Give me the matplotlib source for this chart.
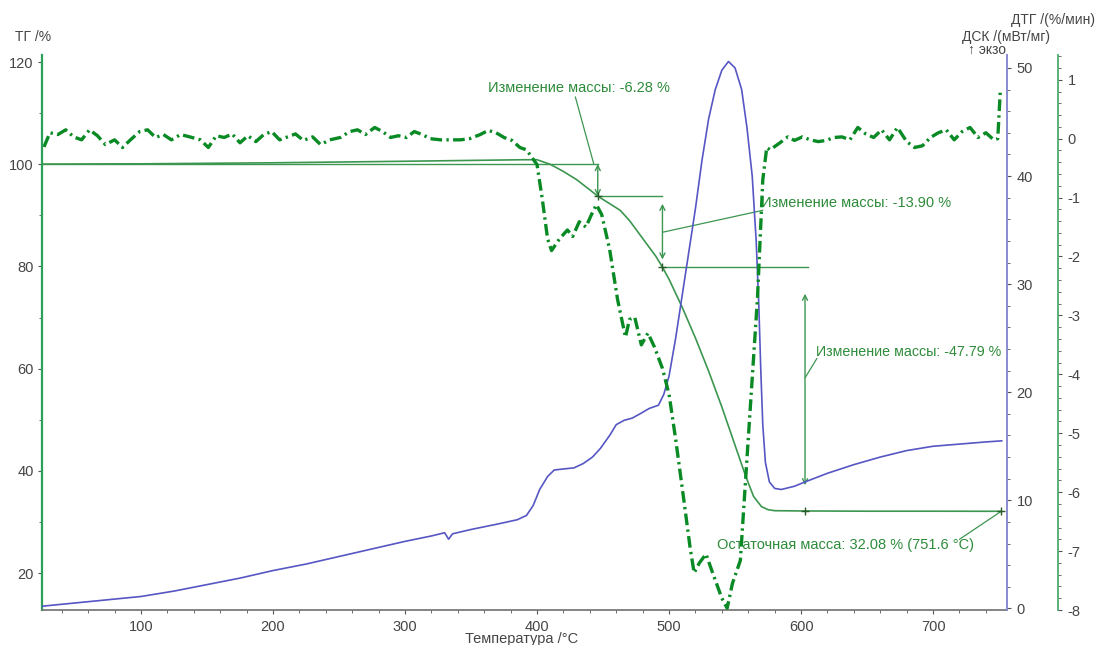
import numpy as np
import matplotlib
matplotlib.use("Agg")
import matplotlib.pyplot as plt
from matplotlib.ticker import MultipleLocator

plt.rcParams['font.family'] = ['Liberation Sans', 'DejaVu Sans']

# TG curve, %
tg_temp = [25, 100, 200, 300, 390, 400, 410, 420, 430, 440, 446, 455, 463, 470,
           480, 490, 495, 500, 510, 520, 530, 540, 550, 558, 564, 570, 575, 580,
           600, 650, 700, 751.6]
tg_mass = [100.05, 100.1, 100.3, 100.6, 100.9, 100.9, 100.0, 98.6, 97.0, 95.0,
           93.77, 92.3, 91.0, 89.0, 85.5, 82.0, 79.87, 77.5, 72.0, 66.0, 59.5,
           52.5, 45.0, 39.0, 35.0, 33.0, 32.4, 32.2, 32.15, 32.1, 32.1, 32.08]

# DSC curve, mW/mg
dsc_temp = [25, 50, 75, 100, 125, 150, 175, 200, 225, 250, 275, 300, 320, 330,
            333, 336, 350, 370, 385, 392, 397, 402, 408, 413, 420, 428, 435, 442,
            448, 455, 460, 466, 472, 478, 485, 492, 496, 500, 505, 510, 515, 520,
            525, 530, 535, 540, 545, 550, 555, 559, 563, 566, 568, 569.5, 571,
            573, 576, 580, 585, 595, 603, 620, 640, 660, 680, 700, 720, 740, 752]
dsc_val = [0.2, 0.5, 0.8, 1.1, 1.6, 2.2, 2.8, 3.5, 4.1, 4.8, 5.5, 6.2, 6.7, 7.0,
           6.4, 6.9, 7.3, 7.8, 8.2, 8.6, 9.5, 11.0, 12.2, 12.8, 12.9, 13.0, 13.4,
           14.0, 14.8, 16.0, 17.0, 17.4, 17.6, 18.0, 18.5, 18.8, 19.8, 21.5, 25.0,
           29.0, 33.0, 37.0, 41.5, 45.3, 48.0, 49.8, 50.6, 50.0, 48.0, 44.5, 40.0,
           34.0, 28.0, 22.0, 17.0, 13.5, 11.7, 11.1, 11.0, 11.3, 11.7, 12.5, 13.3,
           14.0, 14.6, 15.0, 15.2, 15.4, 15.5]

# DTG curve, %/min
dtg_temp = [26.5, 31, 37, 43, 49, 55, 61, 67, 73, 80, 86, 92, 99, 105, 111, 117,
            123, 130, 137, 145, 151, 157, 163, 169, 175, 181, 187, 193, 199, 205,
            211, 217, 223, 230, 236, 243, 251, 258, 264, 270, 277, 283, 289, 295,
            301, 307, 313, 319, 327, 334, 342, 349, 357, 363, 369, 375, 381, 387,
            392, 400, 404, 408, 411, 417, 423, 427, 432, 437, 441, 445, 449, 455,
            461, 467, 470, 474, 479, 484, 489, 495, 500, 505, 511, 516, 519, 523,
            528, 533, 540, 544, 548, 554, 561, 567, 571, 574, 576.5, 584, 590, 595,
            601, 607, 613, 619, 625, 631, 637, 643, 649, 655, 661, 667, 673, 680,
            686, 692, 698, 704, 710, 716, 722, 728, 734, 740, 746, 749, 751]
dtg_val = [-0.14, 0.10, 0.07, 0.15, 0.03, -0.02, 0.15, 0.05, -0.10, -0.02, -0.15,
           -0.02, 0.12, 0.15, 0.02, 0.07, -0.02, 0.07, 0.03, -0.02, -0.15, 0.05,
           0.02, 0.08, -0.07, 0.05, -0.05, 0.07, 0.12, -0.02, 0.03, 0.08, -0.03,
           0.03, -0.10, -0.02, 0.02, 0.12, 0.15, 0.07, 0.19, 0.12, 0.02, 0.05,
           0.02, 0.12, 0.07, 0.0, -0.02, -0.02, -0.02, 0.0, 0.07, 0.14, 0.10, 0.02,
           -0.03, -0.15, -0.19, -0.44, -1.03, -1.7, -1.9, -1.7, -1.55, -1.66,
           -1.41, -1.5, -1.3, -1.12, -1.29, -1.88, -2.73, -3.37, -3.07, -3.03,
           -3.5, -3.3, -3.54, -3.9, -4.34, -5.1, -6.1, -6.95, -7.37, -7.2, -7.05,
           -7.37, -7.8, -7.97, -7.55, -7.16, -4.75, -2.7, -0.7, -0.15, -0.19,
           -0.07, 0.03, -0.03, 0.03, -0.02, -0.05, -0.03, 0.02, 0.03, -0.02, 0.19,
           0.08, 0.02, 0.15, -0.02, 0.19, -0.05, -0.15, -0.12, 0.02, 0.10, 0.15,
           -0.02, 0.12, 0.19, 0.02, 0.10, -0.02, 0.0, 0.85]

# mass-loss steps
mass_steps = [6.28, 13.90, 47.79]
residual_mass = 32.08
residual_temp = 751.6
step_temps = [446, 495, 603]

green = '#3c9650'
dtg_green = '#0a8a24'
text_green = '#2e8b3a'
blue = '#5656c4'
tick_grey = '#454545'

fig = plt.figure(figsize=(10.98, 6.45), dpi=100)
ax = fig.add_axes([42 / 1098, 35 / 645, 965 / 1098, 555 / 645])
ax_dsc = ax.twinx()
ax_dtg = ax.twinx()

# TG
ax.plot(tg_temp, tg_mass, color=green, lw=1.2, zorder=3)
ax.set_xlim(25, 756)
ax.set_ylim(12.76, 121.4)

# DSC
ax_dsc.plot(dsc_temp, dsc_val, color=blue, lw=1.2)
ax_dsc.set_ylim(-0.15, 51.2)

# DTG
ax_dtg.plot(dtg_temp, dtg_val, color=dtg_green, lw=2.4,
            linestyle=(0, (3.5, 1.3, 0.7, 1.3)))
ax_dtg.set_ylim(-8.0, 1.42)

# step construction lines
levels = [residual_mass + sum(mass_steps)]
for s in mass_steps:
    levels.append(levels[-1] - s)

ax.plot([25, step_temps[0]], [levels[0], levels[0]], color=green, lw=1.0)
ax.plot([step_temps[0], step_temps[1]], [levels[1], levels[1]], color=green, lw=1.0)
ax.plot([step_temps[1], step_temps[2] + 2], [levels[2], levels[2]], color=green, lw=1.0)

arrow_kw = dict(arrowstyle='<->', color=green, lw=1.0, shrinkA=0, shrinkB=0,
                mutation_scale=9)
ax.annotate('', xy=(step_temps[0], levels[1]), xytext=(step_temps[0], levels[0]),
            arrowprops=arrow_kw)
ax.annotate('', xy=(step_temps[1], levels[2] + 1.5), xytext=(step_temps[1], levels[1] - 1.5),
            arrowprops=arrow_kw)
ax.annotate('', xy=(step_temps[2], residual_mass + 5.1), xytext=(step_temps[2], levels[2] - 5.2),
            arrowprops=arrow_kw)

ax.plot(step_temps + [residual_temp],
        [levels[1], levels[2], residual_mass, residual_mass],
        linestyle='none', marker='+', color='#2a5a2a', ms=6, mew=1.0, zorder=4)

# labels with leader lines
leader_kw = dict(arrowstyle='-', color=green, lw=0.9, shrinkA=0, shrinkB=0)
ax.text(363, 114.9, f'Изменение массы: -{mass_steps[0]:.2f} %',
        color=text_green, fontsize=10.5, va='center')
ax.annotate('', xy=(429, 113.2), xytext=(step_temps[0] - 3, levels[0]),
            arrowprops=leader_kw)
ax.text(570, 92.4, f'Изменение массы: -{mass_steps[1]:.2f} %',
        color=text_green, fontsize=10.5, va='center')
ax.annotate('', xy=(571, 91.0), xytext=(step_temps[1], 86.7), arrowprops=leader_kw)
ax.text(611, 63.2, f'Изменение массы: -{mass_steps[2]:.2f} %',
        color=text_green, fontsize=10.3, va='center')
ax.annotate('', xy=(612, 62.0), xytext=(step_temps[2], 58.2), arrowprops=leader_kw)
ax.text(536, 25.5, f'Остаточная масса: {residual_mass:.2f} % ({residual_temp} °C)',
        color=text_green, fontsize=10.5, va='center')
ax.annotate('', xy=(720, 26.6), xytext=(residual_temp, residual_mass), arrowprops=leader_kw)

# axes styling
for a in (ax, ax_dsc, ax_dtg):
    for side in ('top', 'left', 'right', 'bottom'):
        a.spines[side].set_visible(False)

ax.spines['left'].set_visible(True)
ax.spines['left'].set_color('#2ca05a')
ax.spines['left'].set_linewidth(1.6)
ax.spines['bottom'].set_visible(True)
ax.spines['bottom'].set_color('#707070')
ax.spines['bottom'].set_linewidth(1.2)

ax_dsc.spines['right'].set_visible(True)
ax_dsc.spines['right'].set_color('#8a8ad0')
ax_dsc.spines['right'].set_linewidth(1.4)

ax_dtg.spines['right'].set_visible(True)
ax_dtg.spines['right'].set_position(('axes', (1058 - 42) / 965))
ax_dtg.spines['right'].set_color('#5cb07a')
ax_dtg.spines['right'].set_linewidth(1.4)

ax.xaxis.set_major_locator(MultipleLocator(100))
ax.xaxis.set_minor_locator(MultipleLocator(20))
ax.yaxis.set_major_locator(MultipleLocator(20))
ax.yaxis.set_minor_locator(MultipleLocator(10))
ax_dsc.yaxis.set_major_locator(MultipleLocator(10))
ax_dsc.yaxis.set_minor_locator(MultipleLocator(2))
ax_dtg.yaxis.set_major_locator(MultipleLocator(1))
ax_dtg.yaxis.set_minor_locator(MultipleLocator(0.2))

ax.tick_params(axis='x', which='major', length=3, color='#555555',
               labelcolor=tick_grey, labelsize=10.5, pad=4)
ax.tick_params(axis='x', which='minor', length=2, color='#555555')
ax.tick_params(axis='y', which='major', length=3, color='#555555',
               labelcolor=tick_grey, labelsize=10.5, pad=3)
ax.tick_params(axis='y', which='minor', length=2, color='#555555')
ax_dsc.tick_params(axis='y', which='major', length=3, color='#555555',
                   labelcolor=tick_grey, labelsize=10.5, pad=4)
ax_dsc.tick_params(axis='y', which='minor', length=2, color='#555555')
ax_dtg.tick_params(axis='y', which='major', length=3, color='#555555',
                   labelcolor=tick_grey, labelsize=10.5, pad=4)
ax_dtg.tick_params(axis='y', which='minor', length=2, color='#555555')
ax_dtg.yaxis.set_major_formatter(plt.FuncFormatter(lambda v, p: f'{v:g}'))

# axis titles
fig.text(15 / 1098, 1 - 37 / 645, 'ТГ /%', fontsize=10, color=tick_grey, va='center')
fig.text(1095 / 1098, 1 - 20 / 645, 'ДТГ /(%/мин)', fontsize=10, color=tick_grey,
         va='center', ha='right')
fig.text(1050 / 1098, 1 - 37 / 645, 'ДСК /(мВт/мг)', fontsize=10, color=tick_grey,
         va='center', ha='right')
fig.text(987 / 1098, 1 - 50 / 645, '↑ экзо', fontsize=10, color=tick_grey,
         va='center', ha='center')
fig.text(522 / 1098, 1 - 632 / 645, 'Температура /°C', fontsize=10.5, color=tick_grey,
         va='top', ha='center')

fig.savefig('out.png', dpi=100)
